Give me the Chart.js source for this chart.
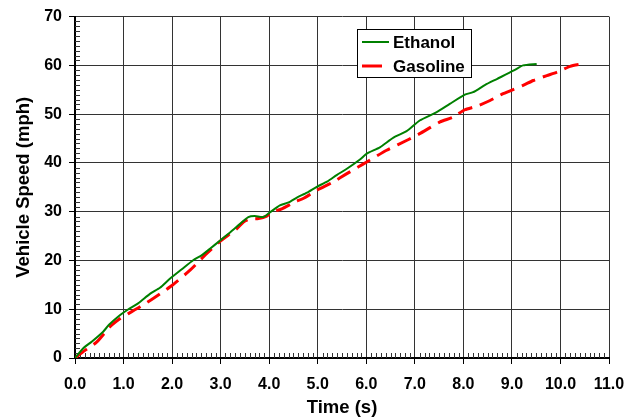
<!DOCTYPE html>
<html>
<head>
<meta charset="utf-8">
<script src="https://cdn.jsdelivr.net/npm/chart.js@4"></script>
<style>
  html, body { margin: 0; padding: 0; background: #fff; }
  #wrap { width: 639px; height: 417px; }
</style>
</head>
<body>
<div id="wrap"><canvas id="speedChart" width="639" height="417"></canvas></div>
<script>
// values
const seriesNames = ['Ethanol', 'Gasoline'];

const ethanolTime  = [0, 0.17, 0.35, 0.58, 0.7, 0.93, 1.1, 1.3, 1.55, 1.75, 1.96, 2.2, 2.44, 2.6, 2.78, 2.99, 3.2, 3.4, 3.57, 3.7, 3.88, 4.02, 4.22, 4.4, 4.57, 4.78, 4.98, 5.2, 5.39, 5.6, 5.87, 6.01, 6.28, 6.56, 6.83, 7.1, 7.45, 7.72, 8.03, 8.2, 8.45, 8.69, 9.03, 9.23, 9.51];
const ethanolSpeed = [0, 2.0, 3.4, 5.4, 6.8, 8.8, 10.0, 11.2, 13.2, 14.4, 16.3, 18.2, 20.1, 21.0, 22.4, 24.1, 25.8, 27.5, 28.9, 29.1, 28.9, 29.9, 31.3, 31.9, 32.9, 33.9, 35.1, 36.2, 37.5, 38.8, 40.7, 41.9, 43.2, 45.2, 46.5, 48.7, 50.4, 52.1, 54.0, 54.5, 56.0, 57.2, 58.9, 60.0, 60.3];

const gasTime  = [0, 0.17, 0.45, 0.72, 0.93, 1.1, 1.34, 1.61, 1.96, 2.37, 2.71, 3.0, 3.33, 3.47, 3.6, 3.78, 3.95, 4.05, 4.26, 4.53, 4.7, 4.98, 5.32, 5.6, 5.84, 6.01, 6.42, 6.87, 7.1, 7.52, 7.79, 8.03, 8.27, 8.55, 8.82, 9.23, 9.44, 9.72, 9.95, 10.2, 10.44];
const gasSpeed = [0, 1.3, 3.3, 6.4, 8.1, 9.1, 10.5, 12.2, 14.6, 18.0, 21.4, 24.0, 26.5, 27.9, 28.5, 28.6, 29.1, 29.9, 30.6, 32.0, 32.7, 34.4, 36.1, 37.8, 39.2, 40.2, 42.6, 44.8, 46.0, 48.4, 49.4, 50.9, 51.6, 52.8, 54.2, 55.9, 56.9, 57.9, 58.7, 59.8, 60.3];

const xMin = 0, xMax = 11, xStep = 1;
const yMin = 0, yMax = 70, yStep = 10;

const FONT = '"Liberation Sans", Arial, sans-serif';

function toPoints(xs, ys) {
    return xs.map((x, i) => ({ x: x, y: ys[i] }));
}

// small inside ticks along the two axes
const minorTicks = {
    id: 'minorTicks',
    beforeDatasetsDraw(chart) {
        const { ctx, chartArea: a, scales: { x, y } } = chart;
        ctx.save();
        ctx.strokeStyle = '#333';
        ctx.lineWidth = 1;
        ctx.beginPath();
        for (let i = 1; i < (xMax - xMin) * 10; i++) {
            if (i % 10 === 0) continue;
            const px = Math.round(x.getPixelForValue(xMin + i / 10)) + 0.5;
            ctx.moveTo(px, a.bottom);
            ctx.lineTo(px, a.bottom - 5);
        }
        for (let j = 1; j < (yMax - yMin); j++) {
            if (j % 10 === 0) continue;
            const py = Math.round(y.getPixelForValue(yMin + j)) + 0.5;
            ctx.moveTo(a.left, py);
            ctx.lineTo(a.left + 5, py);
        }
        ctx.stroke();
        ctx.restore();
    }
};

// boxed legend sitting inside the plot
const boxLegend = {
    id: 'boxLegend',
    afterDraw(chart) {
        const { ctx } = chart;
        const bx = 357.5, by = 29.5, bw = 114, bh = 48;
        ctx.save();
        ctx.fillStyle = '#fff';
        ctx.fillRect(bx, by, bw, bh);
        ctx.strokeStyle = '#000';
        ctx.lineWidth = 1;
        ctx.strokeRect(bx, by, bw, bh);
        chart.data.datasets.forEach((ds, i) => {
            const ly = 42 + i * 24;
            ctx.strokeStyle = ds.borderColor;
            ctx.lineWidth = ds.borderWidth;
            ctx.beginPath();
            if (ds.borderDash && ds.borderDash.length) {
                ctx.moveTo(362, ly);
                ctx.lineTo(382, ly);
            } else {
                ctx.moveTo(362, ly);
                ctx.lineTo(389, ly);
            }
            ctx.stroke();
            ctx.fillStyle = '#000';
            ctx.font = 'bold 17px ' + FONT;
            ctx.textBaseline = 'middle';
            ctx.fillText(ds.label, 393, ly + 1);
        });
        ctx.restore();
    }
};

new Chart(document.getElementById('speedChart'), {
    type: 'line',
    data: {
        datasets: [
            {
                label: seriesNames[0],
                data: toPoints(ethanolTime, ethanolSpeed),
                borderColor: '#008000',
                borderWidth: 2,
                pointRadius: 0,
                tension: 0.2,
                fill: false
            },
            {
                label: seriesNames[1],
                data: toPoints(gasTime, gasSpeed),
                borderColor: '#ff0000',
                borderWidth: 3,
                borderDash: [15, 8],
                pointRadius: 0,
                tension: 0.2,
                fill: false
            }
        ]
    },
    options: {
        responsive: false,
        animation: false,
        layout: { padding: { top: 16, right: 30, left: 0, bottom: 0 } },
        plugins: { legend: { display: false }, tooltip: { enabled: false } },
        scales: {
            x: {
                type: 'linear', min: xMin, max: xMax,
                afterFit(scale) { scale.height = 59; },
                ticks: {
                    stepSize: xStep,
                    padding: 11,
                    color: '#000',
                    font: { family: FONT, size: 16, weight: 'bold' },
                    callback: v => v.toFixed(1)
                },
                grid: { color: '#333', lineWidth: 1, tickLength: 6, tickColor: '#000' },
                border: { color: '#000', width: 2 },
                title: {
                    display: true, text: 'Time (s)', color: '#000',
                    font: { family: FONT, size: 18.5, weight: 'bold', lineHeight: 1 },
                    padding: { top: 0, bottom: 0 }
                }
            },
            y: {
                min: yMin, max: yMax,
                afterFit(scale) { scale.width = 75; },
                ticks: {
                    stepSize: yStep,
                    padding: 7,
                    color: '#000',
                    font: { family: FONT, size: 16, weight: 'bold' }
                },
                grid: { color: '#333', lineWidth: 1, tickLength: 6, tickColor: '#000' },
                border: { color: '#000', width: 2 },
                title: {
                    display: true, text: 'Vehicle Speed (mph)', color: '#000',
                    font: { family: FONT, size: 18.5, weight: 'bold', lineHeight: 1 },
                    padding: { top: 15, bottom: 0 }
                }
            }
        }
    },
    plugins: [minorTicks, boxLegend]
});
</script>
</body>
</html>
